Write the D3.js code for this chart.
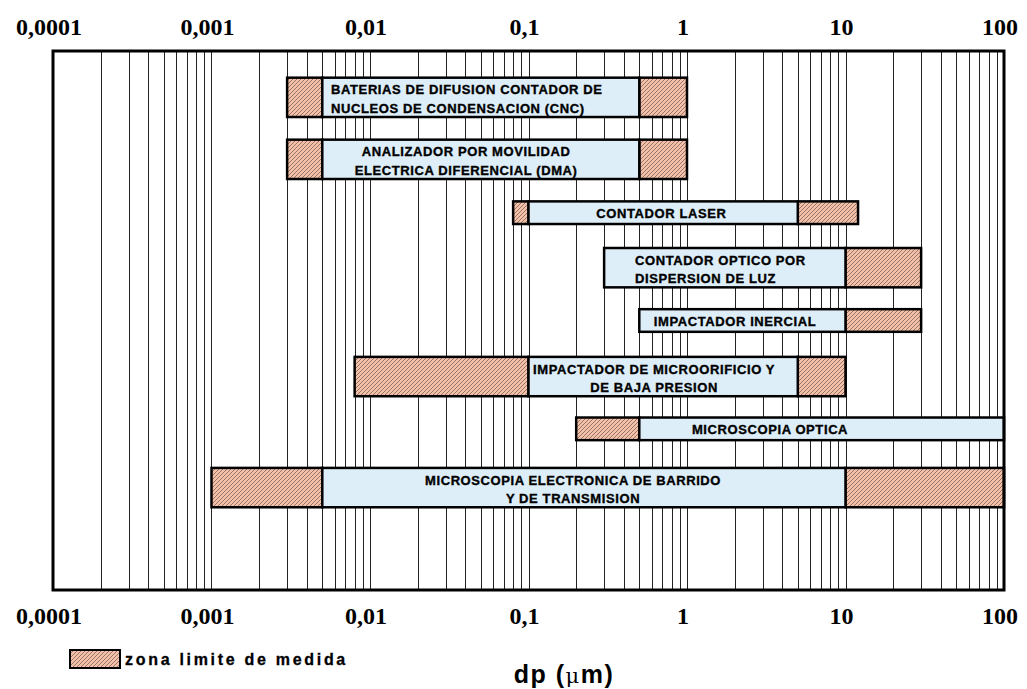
<!DOCTYPE html>
<html lang="es">
<head>
<meta charset="utf-8">
<script src="https://cdn.jsdelivr.net/npm/d3@7"></script>
<style>
  body { margin: 0; background: #fff; }
  .tick-label { font-family: "Liberation Serif", "Times New Roman", serif; font-weight: bold; font-size: 24px; text-anchor: middle; }
  .bar-label { font-family: "Liberation Sans", Arial, sans-serif; font-weight: bold; font-size: 13px; letter-spacing: 0.6px; stroke: #000; stroke-width: 0.35px; }
  .legend-label { font-family: "Liberation Sans", Arial, sans-serif; font-weight: bold; font-size: 16px; letter-spacing: 2.7px; stroke: #000; stroke-width: 0.3px; }
  .axis-title { font-family: "Liberation Sans", Arial, sans-serif; font-weight: bold; font-size: 25px; letter-spacing: 1.5px; }
</style>
</head>
<body>
<div id="chart"></div>
<script>
// axis ticks (dp in µm)
var tickValues = [0.0001, 0.001, 0.01, 0.1, 1, 10, 100];
var tickLabels = ["0,0001", "0,001", "0,01", "0,1", "1", "10", "100"];

// instruments
var names = [
  ["BATERIAS DE DIFUSION CONTADOR DE", "NUCLEOS DE CONDENSACION (CNC)"],
  ["ANALIZADOR POR MOVILIDAD", "ELECTRICA DIFERENCIAL (DMA)"],
  ["CONTADOR LASER"],
  ["CONTADOR OPTICO POR", "DISPERSION DE LUZ"],
  ["IMPACTADOR INERCIAL"],
  ["IMPACTADOR DE MICROORIFICIO Y", "DE BAJA PRESION"],
  ["MICROSCOPIA OPTICA"],
  ["MICROSCOPIA ELECTRONICA DE BARRIDO", "Y DE TRANSMISION"]
];
// measuring range limits (µm): lower limit zone, measuring range, upper limit zone
var limitLow  = [0.003, 0.003, 0.08, null, null, 0.008, 0.2, 0.001];
var rangeLow  = [0.005, 0.005, 0.1, 0.3, 0.5, 0.1, 0.5, 0.005];
var rangeHigh = [0.5, 0.5, 5, 10, 10, 5, 100, 10];
var limitHigh = [1, 1, 12, 30, 30, 10, null, 100];
// row position on the vertical (0 = top, 10 = bottom)
var rowPos = [0.86, 2.01, 3.0, 4.02, 5.0, 6.04, 7.01, 8.1];
// where the label sits along dp, and how it is aligned
var labelAt    = [0.00568, 0.0404, 0.69, 0.47, 2.01, 0.62, 3.34, 0.191];
var labelAlign = ["start", "middle", "middle", "start", "middle", "middle", "middle", "middle"];

var W = 1027, H = 689;
var plot = {left: 53, right: 1004, top: 51, bottom: 590};

var svg = d3.select("#chart").append("svg")
  .attr("width", W).attr("height", H);

var defs = svg.append("defs");
var pat = defs.append("pattern")
  .attr("id", "hatch")
  .attr("patternUnits", "userSpaceOnUse")
  .attr("width", 4).attr("height", 4);
pat.append("rect").attr("width", 4).attr("height", 4).attr("fill", "#f4c0a8");
pat.append("path").attr("d", "M-1,1 L1,-1 M0,4 L4,0 M3,5 L5,3")
  .attr("stroke", "#6a5550").attr("stroke-width", 0.7);

var x = d3.scaleLog().domain([0.0001, 100]).range([plot.left, plot.right]);
var y = d3.scaleLinear().domain([0, 10]).range([plot.top, plot.bottom]);

// minor grid: 1..9 per decade
var grid = [];
for (var e = -4; e < 2; e++) {
  for (var k = 1; k <= 9; k++) {
    var v = k * Math.pow(10, e);
    if (v > 0.0001 * 1.0001) grid.push(v);
  }
}
svg.append("g").selectAll("line")
  .data(grid)
  .enter().append("line")
    .attr("x1", function(d) { return Math.round(x(d)) + 0.5; })
    .attr("x2", function(d) { return Math.round(x(d)) + 0.5; })
    .attr("y1", plot.top).attr("y2", plot.bottom)
    .attr("stroke", "#222").attr("stroke-width", 1);

// bars
var rows = names.map(function(n, i) {
  return {lines: n, lo: limitLow[i], a: rangeLow[i], b: rangeHigh[i], hi: limitHigh[i],
          pos: rowPos[i], at: labelAt[i], align: labelAlign[i]};
});
function thick(d) { return d.lines.length > 1 ? 0.73 : 0.42; }

var g = svg.append("g").selectAll("g")
  .data(rows)
  .enter().append("g");

g.filter(function(d) { return d.lo != null; }).append("rect")
  .attr("x", function(d) { return x(d.lo); })
  .attr("width", function(d) { return x(d.a) - x(d.lo); })
  .attr("y", function(d) { return y(d.pos - thick(d) / 2); })
  .attr("height", function(d) { return y(thick(d)) - y(0); })
  .attr("fill", "url(#hatch)").attr("stroke", "#000").attr("stroke-width", 2.5);

g.filter(function(d) { return d.hi != null; }).append("rect")
  .attr("x", function(d) { return x(d.b); })
  .attr("width", function(d) { return x(d.hi) - x(d.b); })
  .attr("y", function(d) { return y(d.pos - thick(d) / 2); })
  .attr("height", function(d) { return y(thick(d)) - y(0); })
  .attr("fill", "url(#hatch)").attr("stroke", "#000").attr("stroke-width", 2.5);

g.append("rect")
  .attr("x", function(d) { return x(d.a); })
  .attr("width", function(d) { return x(d.b) - x(d.a); })
  .attr("y", function(d) { return y(d.pos - thick(d) / 2); })
  .attr("height", function(d) { return y(thick(d)) - y(0); })
  .attr("fill", "#ddeef9").attr("stroke", "#000").attr("stroke-width", 2.5);

g.each(function(d) {
  var t = d3.select(this).append("text")
    .attr("class", "bar-label")
    .attr("text-anchor", d.align)
    .attr("x", x(d.at));
  var cy = y(d.pos);
  var offs = d.lines.length > 1 ? [-7.5, 11] : [1];
  d.lines.forEach(function(s, j) {
    t.append("tspan")
      .attr("x", x(d.at))
      .attr("y", cy + offs[j])
      .attr("dy", "0.35em")
      .text(s);
  });
});

// plot frame
svg.append("rect")
  .attr("x", plot.left).attr("y", plot.top)
  .attr("width", plot.right - plot.left).attr("height", plot.bottom - plot.top)
  .attr("fill", "none").attr("stroke", "#000").attr("stroke-width", 3);

// tick labels top and bottom
[35, 624].forEach(function(by) {
  svg.append("g").selectAll("text")
    .data(tickValues)
    .enter().append("text")
      .attr("class", "tick-label")
      .attr("x", function(d) { return x(d) - 4; })
      .attr("y", by)
      .text(function(d, i) { return tickLabels[i]; });
});

// legend
svg.append("rect")
  .attr("x", 70).attr("y", 650).attr("width", 50).attr("height", 18)
  .attr("fill", "url(#hatch)").attr("stroke", "#000").attr("stroke-width", 2);
svg.append("text")
  .attr("class", "legend-label")
  .attr("x", 125).attr("y", 665)
  .text("zona limite de medida");

// axis title
var at = svg.append("text")
  .attr("class", "axis-title")
  .attr("x", 564).attr("y", 683)
  .attr("text-anchor", "middle");
at.append("tspan").text("dp (");
at.append("tspan").style("font-family", "'DejaVu Serif', serif").style("font-weight", "normal").style("font-size", "21px").text("\u03bc");
at.append("tspan").text("m)");
</script>
</body>
</html>
